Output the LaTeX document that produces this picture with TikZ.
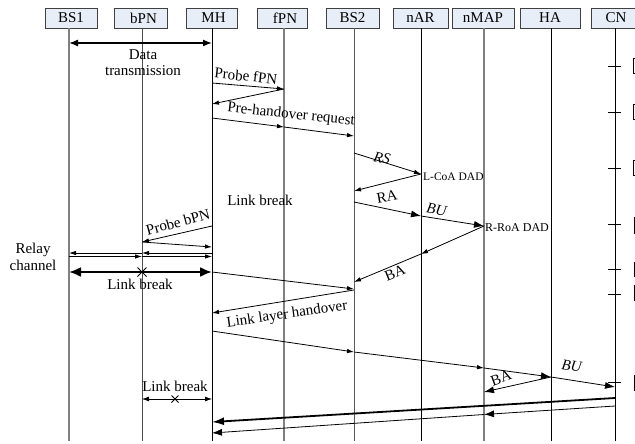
\documentclass[tikz,border=0pt]{standalone}
\usepackage{fontspec}
\setmainfont{Liberation Serif}
\usetikzlibrary{arrows.meta}
\definecolor{hdrfill}{RGB}{232,238,248}
\begin{document}
\begin{tikzpicture}[x=1pt,y=-1pt,
  hdr/.style={draw=black!75,fill=hdrfill,line width=0.8pt,minimum height=20pt,inner sep=0pt,font=\fontsize{15}{17}\selectfont},
  life/.style={line width=0.8pt,draw=black},
  lifeg/.style={line width=1.3pt,draw=black!50},
  msg/.style={line width=0.8pt,-{Latex[length=7pt,width=4.5pt]}},
  msgb/.style={line width=0.8pt,-{Latex[length=10pt,width=7pt]}},
  lbl/.style={font=\fontsize{15}{16}\selectfont,inner sep=0pt},
  sml/.style={font=\fontsize{12}{14}\selectfont,inner sep=0pt},
  xmark/.style={line width=1pt},
  sidebox/.style={line width=0.8pt,draw=black}
]
\useasboundingbox (0,0) rectangle (635,444);
\clip (0,0) rectangle (635,444);
\fill[white] (0,0) rectangle (635,444);

% headers
\node[hdr,minimum width=52pt] (BS1) at (71,18) {BS1};
\node[hdr,minimum width=53pt] (bPN) at (140.5,18) {\hspace*{6pt}bPN};
\node[hdr,minimum width=51pt] (MH) at (211.5,18) {\hspace*{4pt}MH};
\node[hdr,minimum width=50pt] (fPN) at (282,18) {\hspace*{6pt}fPN};
\node[hdr,minimum width=53pt] (BS2) at (352.5,18) {BS2};
\node[hdr,minimum width=55pt] (nAR) at (420.5,18) {nAR};
\node[hdr,minimum width=62pt] (nMAP) at (483,18) {nMAP};
\node[hdr,minimum width=60pt] (HA) at (550,18) {HA};
\node[hdr,minimum width=50pt] (CN) at (616,18) {CN};

% lifeline ends
\coordinate (lBS1) at (69,441);
\coordinate (lbPN) at (142,441);
\coordinate (lMH) at (212,441);
\coordinate (lfPN) at (284,441);
\coordinate (lBS2) at (354,441);
\coordinate (lnAR) at (421,441);
\coordinate (lnMAP) at (484,441);
\coordinate (lHA) at (551,441);
\coordinate (lCN) at (615,441);

\draw[lifeg] (BS1.south -| lBS1) -- (lBS1);
\draw[life,draw=black!70] (bPN.south -| lbPN) -- (lbPN);
\draw[life] (MH.south -| lMH) -- (lMH);
\draw[lifeg] (fPN.south -| lfPN) -- (lfPN);
\draw[life,draw=black!65,line width=1pt] (BS2.south -| lBS2) -- (lBS2);
\draw[life] (nAR.south -| lnAR) -- (lnAR);
\draw[lifeg,line width=1.1pt] (nMAP.south -| lnMAP) -- (lnMAP);
\draw[life] (HA.south -| lHA) -- (lHA);
\draw[life] (CN.south -| lCN) -- (lCN);

% data transmission
\draw[line width=1.3pt,{Latex[length=9pt,width=7pt]}-{Latex[length=9pt,width=7pt]}] (lBS1 |- 0,43) -- (lMH |- 0,43);
\node[lbl,align=center] (dt) at (143,63) {Data\\transmission};

% probe fPN
\draw[msg] (lMH |- 0,83) -- (lfPN |- 0,89);
\draw[msg] (lfPN |- 0,89) -- (lMH |- 0,104);
\node[lbl,rotate=-6] (pf) at (246,76) {Probe fPN};

% pre-handover request
\draw[msg] (lMH |- 0,118) -- (lfPN |- 0,127);
\draw[msg] (lfPN |- 0,127) -- (lBS2 |- 0,136);
\node[lbl,rotate=-6] (phr) at (291,115) {Pre-handover request};

% RS
\draw[msg] (lBS2 |- 0,153) -- (lnAR |- 0,174);
\draw[msg] (lnAR |- 0,174) -- (lBS2 |- 0,191);
\node[lbl,rotate=-12] (rs) at (382,158) {\textit{RS}};
\node[sml,anchor=west,font=\fontsize{11.5}{13}\selectfont] (lcoa) at (423,177) {L-CoA DAD};

% RA
\draw[msgb] (lBS2 |- 0,202) -- (lnAR |- 0,216);
\node[lbl,rotate=10] (ra) at (387,197) {RA};

% BU
\draw[msgb] (lnAR |- 0,216) -- (lnMAP |- 0,226);
\node[lbl,rotate=-10] (bu1) at (437,210) {\textit{BU}};
\node[sml,anchor=west] (rroa) at (485,228) {R-RoA DAD};

% BA
\draw[msg] (lnMAP |- 0,226) -- (lnAR |- 0,254);
\draw[msg] (lnAR |- 0,254) -- (lBS2 |- 0,282);
\node[lbl,rotate=22] (ba1) at (395,273) {BA};

\node[lbl] (lb1) at (260,200) {Link break};

% probe bPN
\draw[msg] (lMH |- 0,226) -- (lbPN |- 0,242);
\draw[msg] (lbPN |- 0,242) -- (lMH |- 0,247);
\node[lbl,rotate=15] (pb) at (178,222) {Probe bPN};

% relay channel
\draw[msg] (lbPN |- 0,253) -- (lBS1 |- 0,253);
\draw[msg] (lBS1 |- 0,256.5) -- (lbPN |- 0,256.5);
\draw[msg] (lMH |- 0,253) -- (lbPN |- 0,253);
\draw[msg] (lbPN |- 0,256.5) -- (lMH |- 0,256.5);
\node[lbl,align=center,font=\fontsize{15}{17}\selectfont] (rc) at (33,257) {Relay\\channel};

% thick link break
\draw[line width=2.2pt,{Latex[length=12pt,width=10pt]}-{Latex[length=12pt,width=10pt]}] (lBS1 |- 0,272) -- (lMH |- 0,272);
\draw[xmark] (lbPN |- 0,272) +(-4.5,-4.5) -- +(4.5,4.5);
\draw[xmark] (lbPN |- 0,272) +(-4.5,4.5) -- +(4.5,-4.5);
\node[lbl] (lb2) at (140,284) {Link break};

% MH -> BS2
\draw[msg] (lMH |- 0,272) -- (lBS2 |- 0,289);

% link layer handover
\draw[msg] (lBS2 |- 0,290) -- (lMH |- 0,313);
\node[lbl,rotate=8] (llh) at (287,315) {Link layer handover};

% BU chain
\draw[msg] (lMH |- 0,331) -- (lBS2 |- 0,352);
\draw[msg] (lBS2 |- 0,352) -- (lnMAP |- 0,368);
\draw[msgb] (lnMAP |- 0,368) -- (lHA |- 0,377);
\draw[msgb] (lHA |- 0,377) -- (lCN |- 0,387);
\node[lbl,rotate=-8] (bu2) at (572,366) {\textit{BU}};

% BA
\draw[msgb] (lHA |- 0,377) -- (lnMAP |- 0,392);
\node[lbl,rotate=20] (ba2) at (501,378) {BA};

% lower link break
\draw[line width=0.8pt,{Latex[length=7pt,width=5pt]}-{Latex[length=7pt,width=5pt]}] (lbPN |- 0,399) -- (lMH |- 0,399);
\coordinate (x2) at (175,399);
\draw[xmark] (x2) +(-3.5,-3.5) -- +(3.5,3.5);
\draw[xmark] (x2) +(-3.5,3.5) -- +(3.5,-3.5);
\node[lbl] (lb3) at (175,386) {Link break};

% CN -> MH
\draw[line width=1.8pt,-{Latex[length=12pt,width=8pt]}] (lCN |- 0,398) -- (lMH |- 0,422);
\draw[msgb] (lCN |- 0,406) -- (lnMAP |- 0,414.5);
\draw[msgb] (lnMAP |- 0,414.5) -- (lMH |- 0,433);

% CN ticks
\foreach \yy in {66,112,168,224,269,294,382}
  \draw[line width=0.8pt] (lCN |- 0,\yy) +(-7,0) -- +(6,0);

% partial side boxes
\draw[sidebox] (633,58) rectangle (680,73);
\draw[sidebox] (633,104) rectangle (680,119);
\draw[sidebox] (633,160) rectangle (680,175);
\draw[sidebox] (634,217) rectangle (680,233);
\draw[sidebox] (634,262) rectangle (680,276);
\draw[sidebox] (634,285) rectangle (680,300);
\draw[sidebox] (634,375) rectangle (680,390);
\end{tikzpicture}
\end{document}
